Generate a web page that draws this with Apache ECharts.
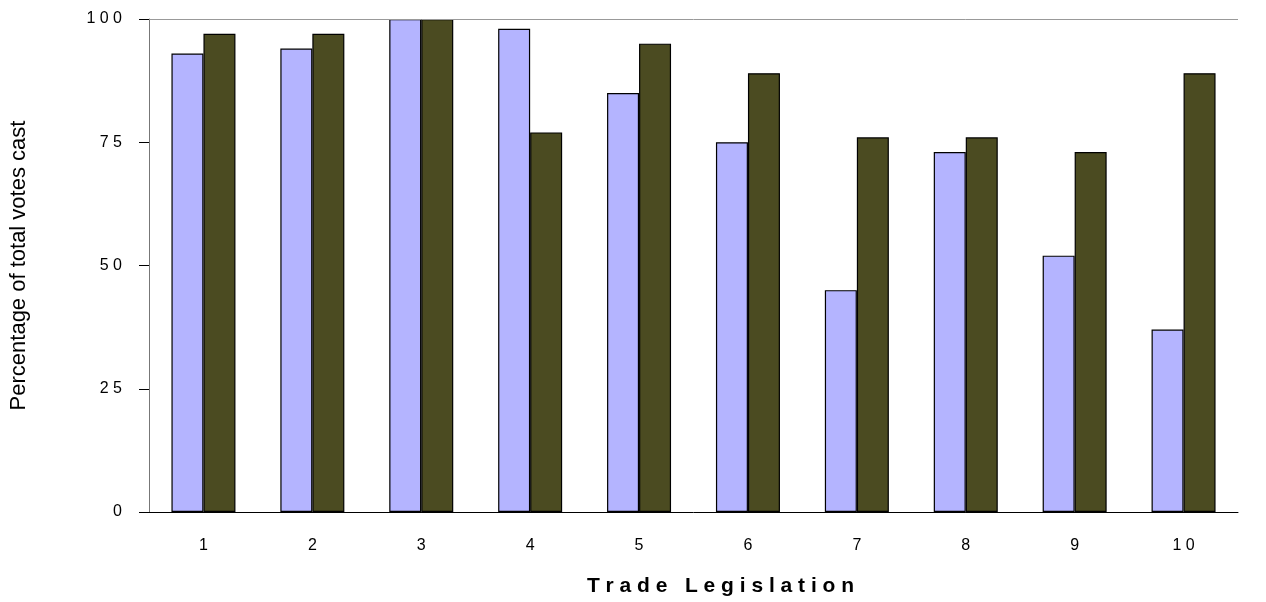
<!DOCTYPE html>
<html>
<head>
<meta charset="utf-8">
<script src="https://cdn.jsdelivr.net/npm/echarts@6/dist/echarts.min.js"></script>
<style>
  html, body { margin: 0; padding: 0; background: #fff; }
  #chart { width: 1266px; height: 602px; }
</style>
</head>
<body>
<div id="chart"></div>
<script>
var categories = ['1', '2', '3', '4', '5', '6', '7', '8', '9', '10'];
var lightValues = [93, 94, 100, 98, 85, 75, 45, 73, 52, 37];
var darkValues = [97, 97, 100, 77, 95, 89, 76, 76, 73, 89];
var yTicks = [0, 25, 50, 75, 100];

// spaced-out characters like the original
function spaced(s) {
    return String(s).split('').join(' ');
}

var chart = echarts.init(document.getElementById('chart'));

chart.setOption({
    animation: false,
    grid: { left: 149, right: 28, top: 19, bottom: 83 },
    xAxis: {
        type: 'category',
        data: categories,
        name: 'Trade Legislation'.split(' ').map(spaced).join('   '),
        nameLocation: 'middle',
        nameGap: 64,
        nameTextStyle: {
            fontFamily: 'Liberation Sans', fontSize: 21, fontWeight: 'bold', color: '#000',
            padding: [0, 0, 0, 54]
        },
        axisLine: { lineStyle: { color: '#000', width: 1 } },
        axisTick: { length: 7, lineStyle: { color: '#000' } },
        axisLabel: {
            fontFamily: 'Liberation Sans', fontSize: 16, color: '#000', margin: 26,
            formatter: function (v) { return spaced(v); }
        }
    },
    yAxis: {
        type: 'value',
        min: yTicks[0],
        max: yTicks[yTicks.length - 1],
        interval: 25,
        name: 'Percentage of total votes cast',
        nameLocation: 'middle',
        nameGap: 119,
        nameTextStyle: { fontFamily: 'Liberation Sans', fontSize: 22, color: '#000' },
        axisLine: { show: true, lineStyle: { color: '#777', width: 1 } },
        axisTick: { show: true, length: 10, lineStyle: { color: '#000' } },
        splitLine: { show: false },
        axisLabel: {
            fontFamily: 'Liberation Sans', fontSize: 16, color: '#000', margin: 27,
            formatter: function (v) { return spaced(v); }
        }
    },
    series: [
        {
            type: 'bar',
            data: lightValues,
            barWidth: 32,
            barGap: '0%',
            itemStyle: { color: '#b4b4ff', borderColor: '#000', borderWidth: 1.2 },
            markLine: {
                silent: true,
                symbol: 'none',
                label: { show: false },
                lineStyle: { color: '#999', type: 'solid', width: 1 },
                data: [{ yAxis: 100 }]
            }
        },
        {
            type: 'bar',
            data: darkValues,
            barWidth: 32,
            itemStyle: { color: '#4b4b21', borderColor: '#000', borderWidth: 1.2 }
        }
    ]
});
</script>
</body>
</html>
